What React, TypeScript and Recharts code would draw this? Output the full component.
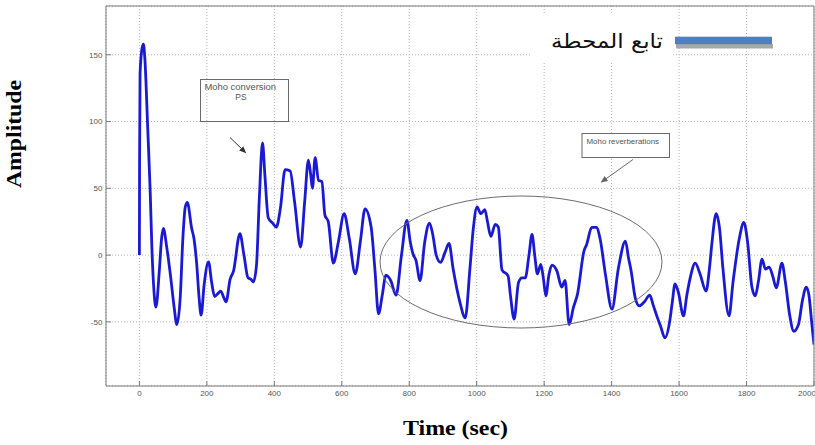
import React from 'react'
import { LineChart, Line, XAxis, YAxis, CartesianGrid } from 'recharts'

// receiver function trace
const timeSec = [
  0, 0.5, 2, 8, 12, 16, 25, 32, 37, 42,
  49, 59, 66, 71, 81, 93, 103, 111, 121, 129,
  136, 142, 155, 162, 170, 177, 183, 192, 205, 214,
  223, 232, 241, 249, 257, 269, 279, 298, 310, 322,
  330, 338, 347, 356, 365, 372, 382, 395, 406, 418,
  432, 447, 460, 478, 490, 501, 508, 513, 521, 531,
  541, 550, 560, 575, 590, 607, 622, 640, 655, 669,
  687, 698, 709, 720, 731, 745, 761, 777, 793, 803,
  811, 820, 832, 846, 860, 870, 880, 893, 906, 918,
  930, 950, 966, 980, 990, 1001, 1012, 1024, 1032, 1042,
  1055, 1064, 1075, 1093, 1100, 1111, 1124, 1134, 1144, 1155,
  1164, 1172, 1180, 1190, 1198, 1205, 1214, 1223, 1238, 1252,
  1262, 1274, 1287, 1299, 1318, 1326, 1341, 1356, 1366, 1382,
  1401, 1420, 1441, 1450, 1458, 1470, 1482, 1497, 1513, 1524,
  1536, 1545, 1558, 1572, 1580, 1588, 1598, 1613, 1623, 1633,
  1648, 1662, 1680, 1690, 1697, 1710, 1720, 1730, 1748, 1760,
  1779, 1792, 1803, 1816, 1826, 1835, 1846, 1856, 1867, 1878,
  1888, 1905, 1915, 1928, 1940, 1954, 1965, 1977, 1985, 1993,
  2000,
]

const amplitude = [
  0, 68, 136, 155, 158, 148, 93, 48, 6, -22,
  -39, -12, 13, 20, 6, -17, -39, -52, -32, 13,
  36, 39.5, 20, 12, -7, -32, -45, -22, -5, -20,
  -31, -29, -27, -31, -35, -18, -12, 16, 0, -17,
  -18, -20, -8, 45, 84, 60, 28, 24, 21, 35,
  64, 63, 40, 6, 40, 71, 60, 50, 73, 56,
  55, 30, 25, -6, 10, 31, 13, -14, 10, 34.5,
  21, -10, -44, -30, -15, -19, -30, 0, 26, 10,
  1, -4, -19, 10, 24, 15, 0, -5.5, 2, 8.7,
  -10, -35, -47, -10, 20, 36, 31, 34, 25, 14,
  23, 21, -11, -15.5, -30, -48, -20.5, -17, -17, 0,
  15.5, 0, -14, -7, -18, -30.5, -15, -7.5, -12, -24,
  -19, -52, -39, -29, 3, 8, 20.7, 20.7, 12, -15,
  -40.5, -10, 10.5, -2, -12, -32, -38, -35, -30, -38,
  -47, -53, -62, -50, -35, -21.5, -28, -45.5, -30, -17,
  -6, -14, -27, -10, 8, 31, 20, -10, -45.5, -20,
  13, 24.5, 10, -24, -30.5, -20, -3, -10.5, -9, -16,
  -24.5, -6, -20, -45, -57, -52, -35, -24, -30, -50,
  -67,
]

const xTicks = [0, 200, 400, 600, 800, 1000, 1200, 1400, 1600, 1800, 2000]
const yTicks = [-50, 0, 50, 100, 150]

const data = timeSec.map((t, i) => ({ t, amp: amplitude[i] }))

const AXIS = '#7a7a7a'
const tickFont = { fill: '#555', fontSize: 8, fontFamily: 'Liberation Sans, Arial, sans-serif' }

export default function App() {
  return (
    <div style={{ position: 'absolute', left: 0, top: 0, width: 815, height: 445, background: '#fff', overflow: 'hidden' }}>
      <LineChart width={815} height={445} data={data} margin={{ top: 0, right: 0, bottom: 0, left: 0 }}>
        <CartesianGrid stroke="#b5b5b5" strokeDasharray="1 2" />
        <XAxis
          dataKey="t"
          type="number"
          domain={[-99, 2000]}
          ticks={xTicks}
          allowDataOverflow
          height={59}
          tickSize={-5}
          tickMargin={9}
          axisLine={{ stroke: AXIS }}
          tickLine={{ stroke: AXIS }}
          tick={tickFont}
        />
        <XAxis
          xAxisId="top"
          orientation="top"
          dataKey="t"
          type="number"
          domain={[-99, 2000]}
          ticks={xTicks}
          allowDataOverflow
          height={6}
          tickSize={-5}
          tick={false}
          axisLine={{ stroke: AXIS }}
          tickLine={{ stroke: AXIS }}
        />
        <YAxis
          type="number"
          domain={[-98, 186.5]}
          ticks={yTicks}
          allowDataOverflow
          width={106}
          tickSize={-5}
          tickMargin={8.6}
          axisLine={{ stroke: AXIS }}
          tickLine={{ stroke: AXIS }}
          tick={tickFont}
        />
        <YAxis
          yAxisId="right"
          orientation="right"
          type="number"
          domain={[-98, 186.5]}
          ticks={yTicks}
          allowDataOverflow
          width={1}
          tickSize={-5}
          tick={false}
          axisLine={{ stroke: AXIS }}
          tickLine={{ stroke: AXIS }}
        />
        <Line
          type="monotone"
          dataKey="amp"
          stroke="#1a1ad4"
          strokeWidth={2.8}
          strokeLinejoin="round"
          dot={false}
          isAnimationActive={false}
        />
      </LineChart>

      {/* annotations, legend and axis titles */}
      <svg width={815} height={445} style={{ position: 'absolute', left: 0, top: 0, pointerEvents: 'none' }}>
        <defs>
          <marker id="ah" markerWidth="7" markerHeight="6" refX="6" refY="3" orient="auto" markerUnits="userSpaceOnUse">
            <path d="M0,0 L7,3 L0,6 z" fill="#333" />
          </marker>
          <marker id="ah2" markerWidth="7" markerHeight="6" refX="6" refY="3" orient="auto" markerUnits="userSpaceOnUse">
            <path d="M0,0 L7,3 L0,6 z" fill="#666" />
          </marker>
        </defs>

        {/* legend */}
        <rect x={530} y={14} width={143} height={47} fill="#fff" />
        <text
          x={607}
          y={48}
          textAnchor="middle"
          direction="rtl"
          fontSize={20}
          fontFamily="DejaVu Sans, sans-serif"
          fill="#111"
          textLength={112}
          lengthAdjust="spacingAndGlyphs"
        >
          تابع المحطة
        </text>
        <rect x={676} y={44} width={97} height={4.5} fill="#a8a8a8" />
        <rect x={675} y={36.7} width={97} height={7.5} fill="#4f7fc0" />

        {/* Moho conversion PS */}
        <rect x={200.5} y={79.5} width={88} height={42} fill="none" stroke="#6a6a6a" strokeWidth={1} />
        <text x={204.5} y={90} fontSize={8.5} fill="#555" fontFamily="Liberation Sans, Arial, sans-serif" textLength={71.5} lengthAdjust="spacingAndGlyphs">
          Moho conversion
        </text>
        <text x={241} y={100} fontSize={8.5} fill="#555" textAnchor="middle" fontFamily="Liberation Sans, Arial, sans-serif">
          PS
        </text>
        <line x1={230} y1={137.5} x2={245.5} y2={152.5} stroke="#333" strokeWidth={1} markerEnd="url(#ah)" />

        {/* Moho reverberations */}
        <rect x={582} y={133.5} width={87.5} height={24} fill="#fff" stroke="#6a6a6a" strokeWidth={1} />
        <text x={586.5} y={144} fontSize={8} fill="#555" fontFamily="Liberation Sans, Arial, sans-serif" textLength={72.5} lengthAdjust="spacingAndGlyphs">
          Moho reverberations
        </text>
        <line x1={633} y1={159.5} x2={601.5} y2={182} stroke="#666" strokeWidth={1} markerEnd="url(#ah2)" />

        <ellipse cx={521} cy={262} rx={141} ry={66} fill="none" stroke="#6d6d6d" strokeWidth={1} />

        {/* axis titles */}
        <text
          transform="translate(21,134) rotate(-90)"
          textAnchor="middle"
          fontSize={21}
          fontWeight="bold"
          fontFamily="Liberation Serif, Times New Roman, serif"
          fill="#000"
          textLength={108}
          lengthAdjust="spacingAndGlyphs"
        >
          Amplitude
        </text>
        <text
          x={455.5}
          y={434.5}
          textAnchor="middle"
          fontSize={21}
          fontWeight="bold"
          fontFamily="Liberation Serif, Times New Roman, serif"
          fill="#000"
          textLength={105}
          lengthAdjust="spacingAndGlyphs"
        >
          Time (sec)
        </text>
      </svg>
    </div>
  )
}
